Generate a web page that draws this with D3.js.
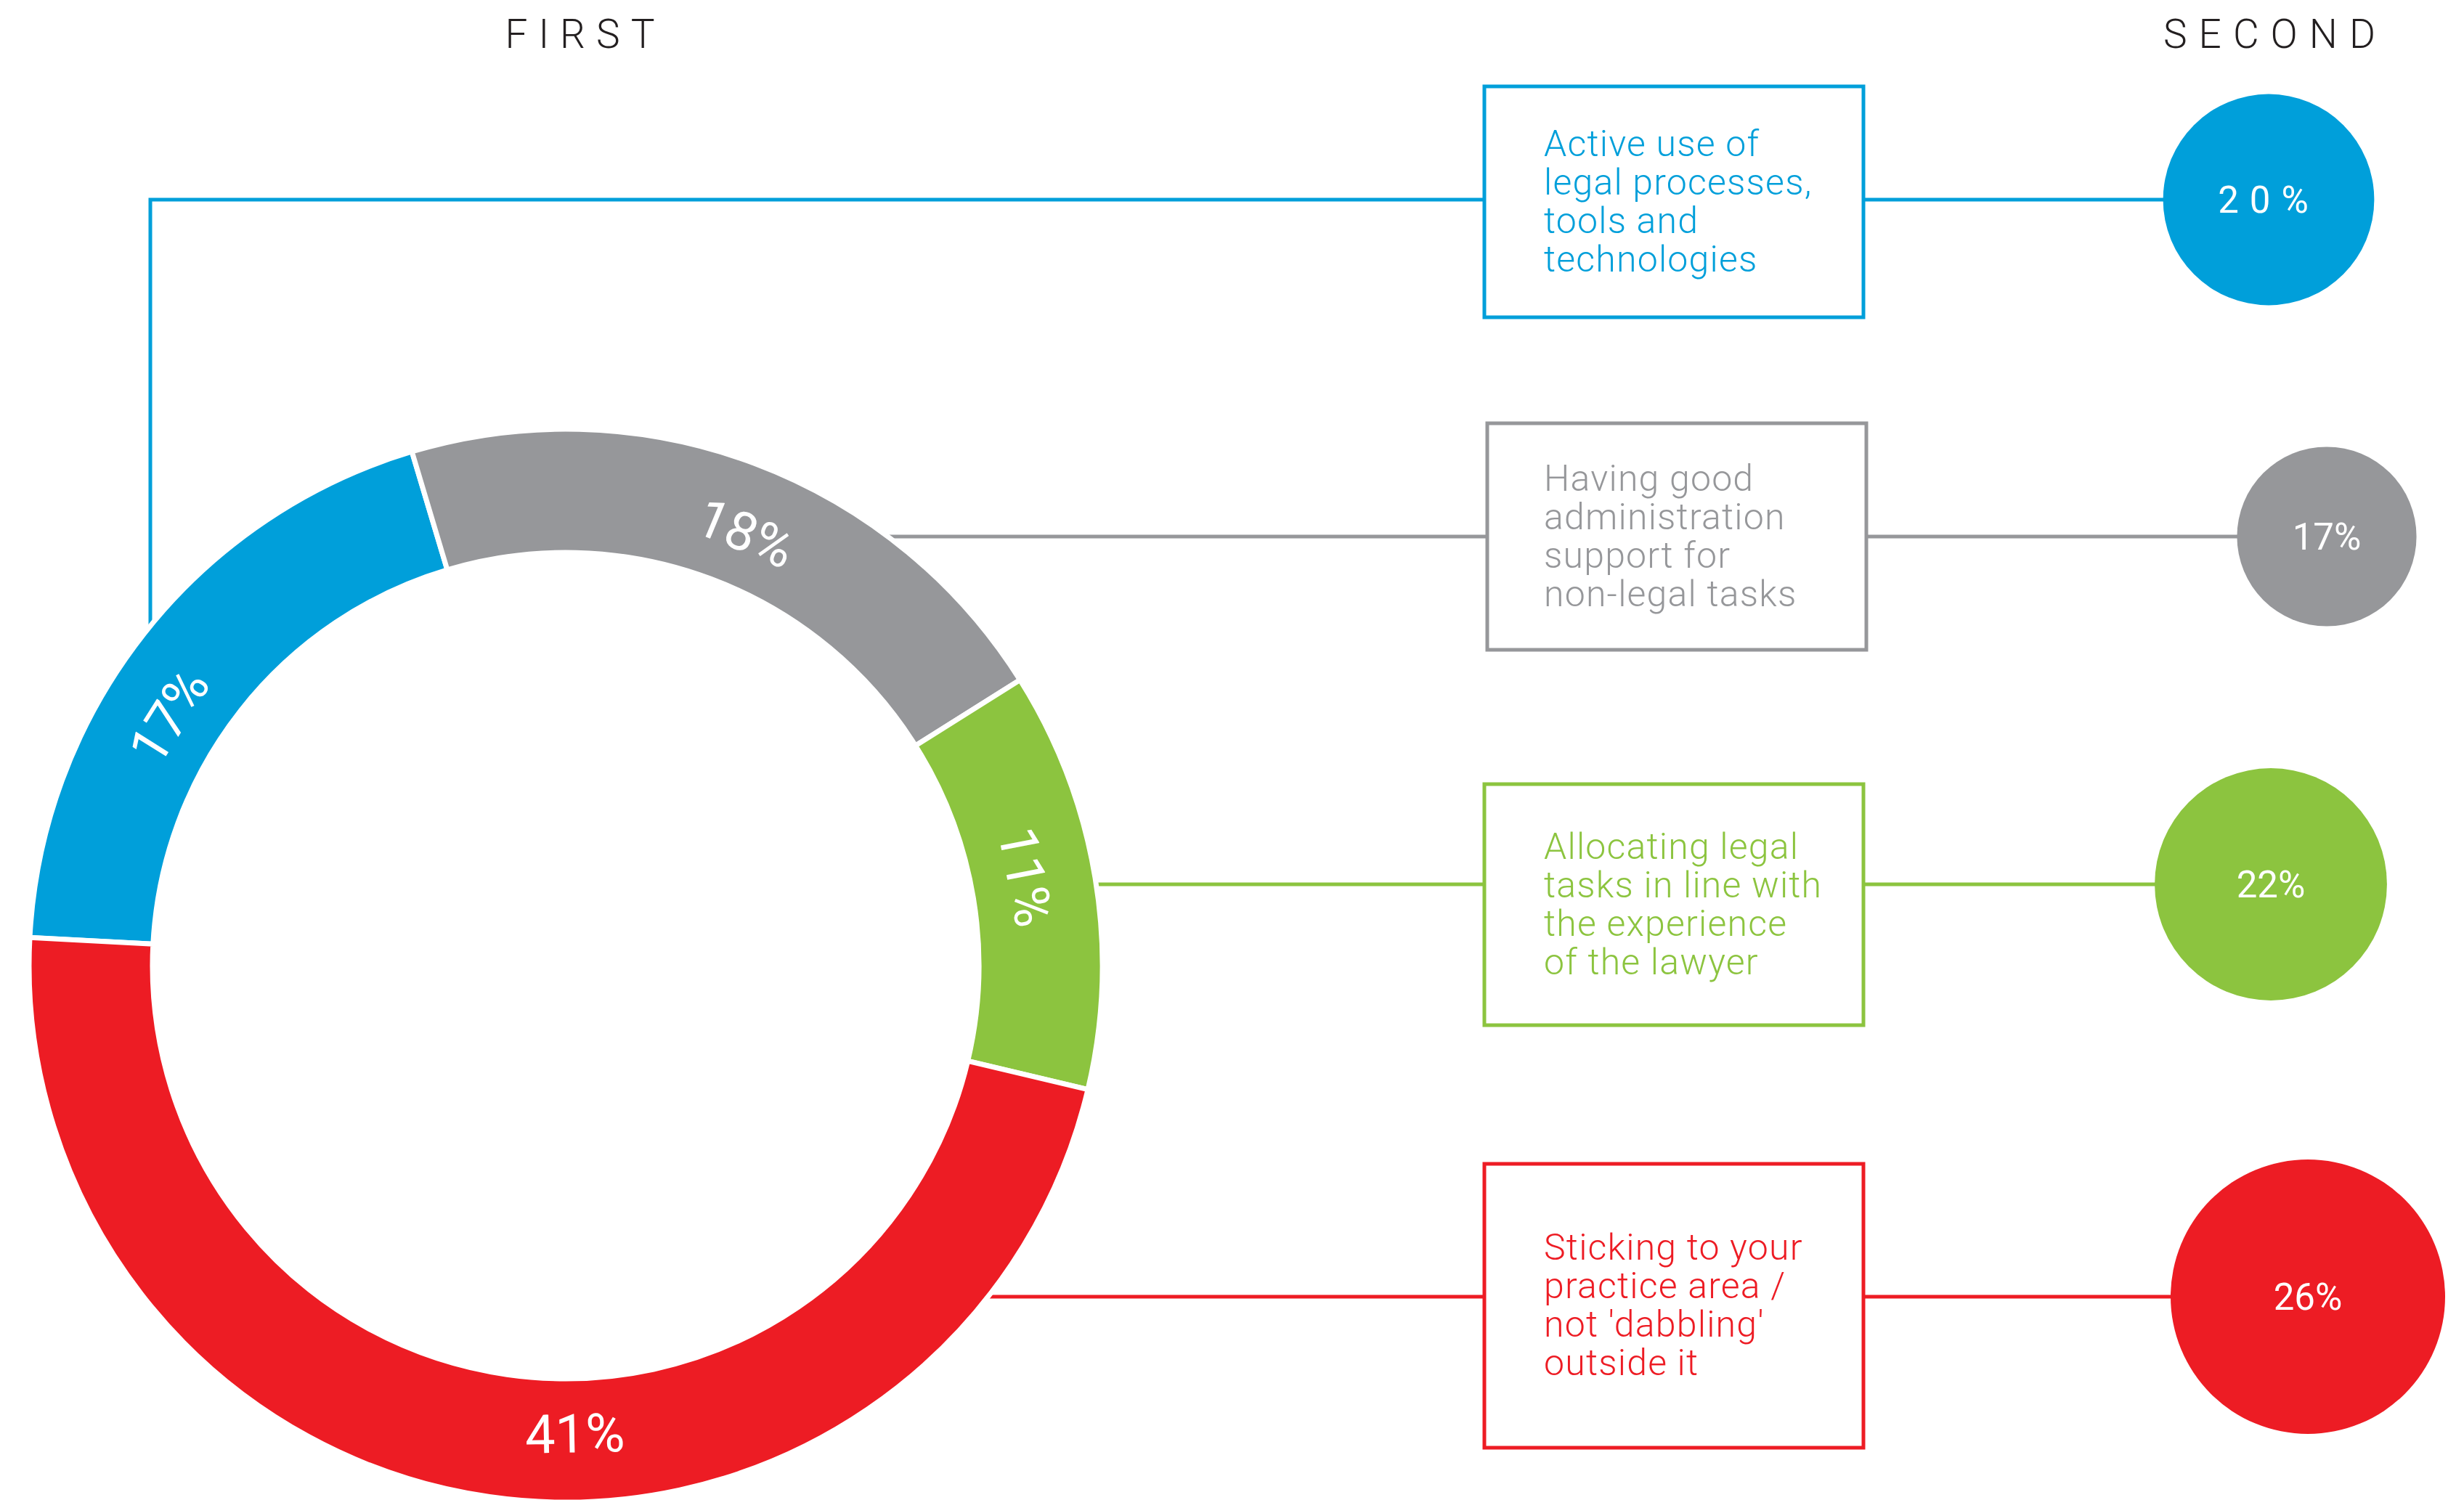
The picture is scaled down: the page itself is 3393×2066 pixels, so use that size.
<!DOCTYPE html>
<html>
<head>
<meta charset="utf-8">
<script src="https://cdn.jsdelivr.net/npm/d3@7"></script>
<style>
  html, body { margin: 0; padding: 0; background: #ffffff; overflow: hidden; }
  svg { display: block; }
  text { font-family: Roboto, "Open Sans", sans-serif; }
</style>
</head>
<body>
<svg id="chart" width="3393" height="2066"></svg>
<script>
// ---------------- DATA ----------------
const categories = [
  "Active use of legal processes, tools and technologies",
  "Having good administration support for non-legal tasks",
  "Allocating legal tasks in line with the experience of the lawyer",
  "Sticking to your practice area / not 'dabbling' outside it"
];
const categoryLines = [
  ["Active use of", "legal processes,", "tools and", "technologies"],
  ["Having good", "administration", "support for", "non-legal tasks"],
  ["Allocating legal", "tasks in line with", "the experience", "of the lawyer"],
  ["Sticking to your", "practice area /", "not 'dabbling'", "outside it"]
];
const firstValues = [17, 18, 11, 41];
const secondValues = [20, 17, 22, 26];
const seriesTitles = ["FIRST", "SECOND"];
const colors = ["#009FDA", "#96979A", "#8CC43F", "#ED1C24"];

// ---------------- LAYOUT ----------------
const W = 3393, H = 2066;
const donut = { cx: 779, cy: 1330, outer: 739, inner: 569 };
const rowY = [275, 739, 1218, 1786];
const boxTop = [119, 583, 1080, 1603];
const boxBottom = [437, 895, 1412, 1994];
const boxShift = [0, 4, 0, 0];
const boxX0 = 2044, boxX1 = 2566, textX = 2126;
const circleCx = [3124, 3204, 3127, 3178];
const labelAngleShift = [-6, 2, -1.5, -9.3]; // degrees, label placement nudge
const labelR = 645;
const blueElbowX = 207;
const lineH = 53;

const svg = d3.select("#chart");

// Titles
svg.append("text")
  .attr("x", 806).attr("y", 66)
  .attr("text-anchor", "middle")
  .attr("font-size", 55).attr("font-weight", 300)
  .attr("letter-spacing", 15)
  .attr("fill", "#231F20")
  .text(seriesTitles[0]);
svg.append("text")
  .attr("x", 3133).attr("y", 66)
  .attr("text-anchor", "middle")
  .attr("font-size", 55).attr("font-weight", 300)
  .attr("letter-spacing", 16)
  .attr("fill", "#231F20")
  .text(seriesTitles[1]);

// Radius scale for second circles (linear in radius)
const rScale = d3.scaleLinear().domain([0, d3.max(secondValues)]).range([0, 189]);

// Connector lines (drawn first, beneath the ring and circles)
const conn = svg.append("g").attr("fill", "none").attr("stroke-width", 5);
categories.forEach((c, i) => {
  const y = rowY[i];
  const bx0 = boxX0 + boxShift[i], bx1 = boxX1 + boxShift[i];
  if (i === 0) {
    const edgeY = donut.cy - Math.sqrt(donut.outer ** 2 - (blueElbowX - donut.cx) ** 2);
    conn.append("path")
      .attr("d", d3.line()([[bx0, y], [blueElbowX, y], [blueElbowX, edgeY]]))
      .attr("stroke", colors[i]);
  } else {
    const edgeX = donut.cx + Math.sqrt(donut.outer ** 2 - (y - donut.cy) ** 2);
    conn.append("line")
      .attr("x1", edgeX).attr("x2", bx0).attr("y1", y).attr("y2", y)
      .attr("stroke", colors[i]);
  }
  conn.append("line")
    .attr("x1", bx1).attr("x2", circleCx[i]).attr("y1", y).attr("y2", y)
    .attr("stroke", colors[i]);
});

// Donut
const pie = d3.pie().sort(null)
  .startAngle(-87 * Math.PI / 180)
  .endAngle(-87 * Math.PI / 180 + 2 * Math.PI);
const arcs = pie(firstValues);
const arc = d3.arc().innerRadius(donut.inner).outerRadius(donut.outer);
const gDonut = svg.append("g").attr("transform", `translate(${donut.cx},${donut.cy})`);
gDonut.selectAll("path.seg").data(arcs).join("path")
  .attr("class", "seg")
  .attr("d", arc)
  .attr("fill", (d, i) => colors[i])
  .attr("stroke", "#ffffff")
  .attr("stroke-width", 7);

gDonut.selectAll("text.lab").data(arcs).join("text")
  .attr("class", "lab")
  .attr("transform", (d, i) => {
    const a = (d.startAngle + d.endAngle) / 2 + labelAngleShift[i] * Math.PI / 180;
    const x = labelR * Math.sin(a), y = -labelR * Math.cos(a);
    let deg = a * 180 / Math.PI;
    if (deg > 90 && deg < 270) deg -= 180;
    return `translate(${x},${y}) rotate(${deg})`;
  })
  .attr("text-anchor", "middle")
  .attr("dominant-baseline", "central")
  .attr("font-size", 74).attr("font-weight", 400)
  .attr("fill", "#ffffff")
  .text(d => d.data + "%");

// Boxes + text
const gBox = svg.append("g");
categories.forEach((c, i) => {
  const bx0 = boxX0 + boxShift[i], bx1 = boxX1 + boxShift[i];
  gBox.append("rect")
    .attr("x", bx0).attr("y", boxTop[i])
    .attr("width", bx1 - bx0).attr("height", boxBottom[i] - boxTop[i])
    .attr("fill", "#ffffff")
    .attr("stroke", colors[i]).attr("stroke-width", 5);
  const cyB = (boxTop[i] + boxBottom[i]) / 2;
  const lines = categoryLines[i];
  const firstBase = cyB - (lines.length - 1) / 2 * lineH + 16;
  const t = gBox.append("text")
    .attr("font-size", 50).attr("font-weight", 300)
    .attr("letter-spacing", 1.2)
    .attr("fill", colors[i]);
  lines.forEach((ln, k) => {
    t.append("tspan").attr("x", textX).attr("y", firstBase + k * lineH).text(ln);
  });
});

// Second circles
const gCirc = svg.append("g");
gCirc.selectAll("circle").data(secondValues).join("circle")
  .attr("cx", (d, i) => circleCx[i])
  .attr("cy", (d, i) => rowY[i])
  .attr("r", d => rScale(d))
  .attr("fill", (d, i) => colors[i]);
gCirc.selectAll("text").data(secondValues).join("text")
  .attr("x", (d, i) => circleCx[i])
  .attr("y", (d, i) => rowY[i])
  .attr("text-anchor", "middle")
  .attr("dominant-baseline", "central")
  .attr("font-size", 51).attr("font-weight", 400)
  .attr("letter-spacing", (d, i) => i === 0 ? 15 : 0)
  .attr("fill", "#ffffff")
  .text(d => d + "%");
</script>
</body>
</html>
